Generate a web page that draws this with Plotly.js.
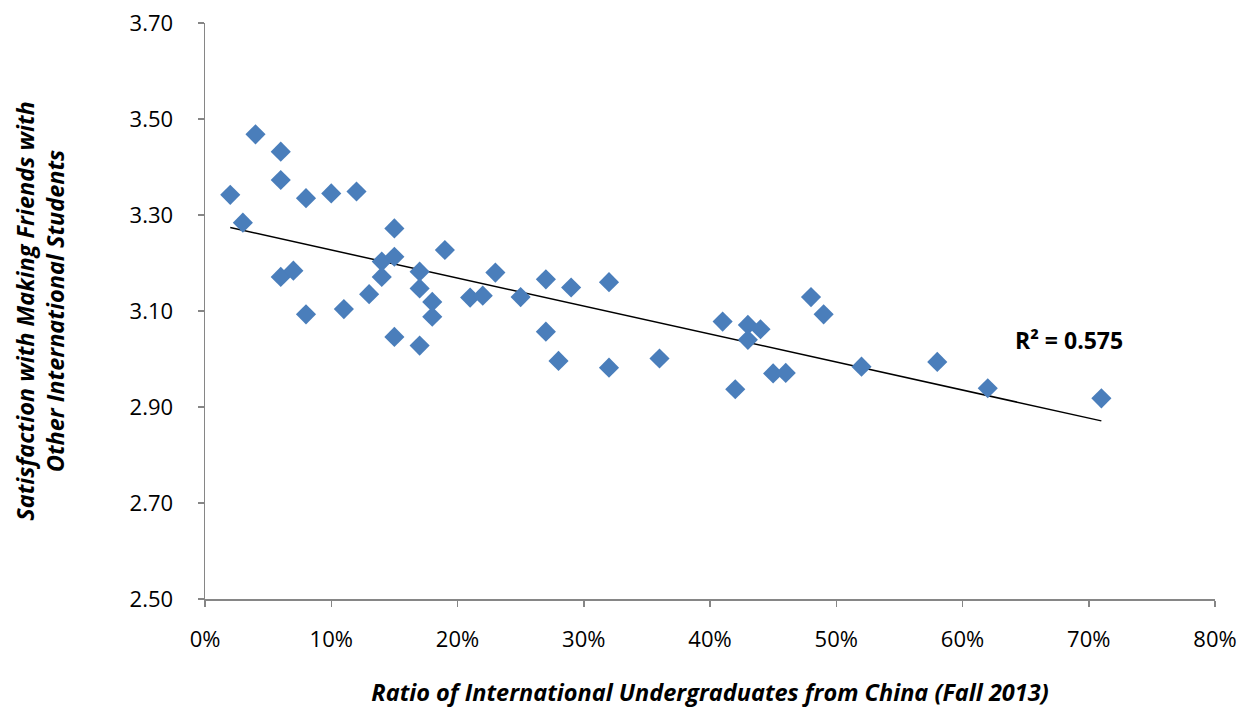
<!DOCTYPE html>
<html>
<head>
<meta charset="utf-8">
<script src="https://cdn.plot.ly/plotly-3.0.1.min.js"></script>
<style>html,body{margin:0;padding:0;background:#fff;}#chart{width:1240px;height:708px;}</style>
</head>
<body>
<div id="chart"></div>
<script>
// Ratio of international undergraduates from China (%), Fall 2013
const ratioChina = [2, 3, 4, 6, 6, 6, 7, 8, 8, 10, 11, 12, 13, 14, 14, 15, 15, 15, 17, 17, 17, 18, 18, 19, 21, 22, 23, 25, 27, 27, 28, 29, 32, 32, 36, 41, 42, 43, 43, 44, 45, 46, 48, 49, 52, 58, 62, 71];
// Satisfaction with making friends with other international students
const satisfaction = [3.342, 3.284, 3.468, 3.432, 3.373, 3.171, 3.184, 3.335, 3.093, 3.345, 3.104, 3.349, 3.135, 3.203, 3.171, 3.272, 3.213, 3.046, 3.182, 3.147, 3.028, 3.119, 3.088, 3.227, 3.128, 3.132, 3.180, 3.129, 3.166, 3.057, 2.996, 3.149, 3.160, 2.982, 3.001, 3.078, 2.937, 3.071, 3.040, 3.062, 2.970, 2.971, 3.129, 3.093, 2.984, 2.994, 2.939, 2.918];
const yTickVals = [2.5, 2.7, 2.9, 3.1, 3.3, 3.5, 3.7];
const xTickVals = [0, 10, 20, 30, 40, 50, 60, 70, 80];
const rSquaredLabel = 'R² = 0.575';

// least-squares linear trendline
const n = ratioChina.length;
const mx = ratioChina.reduce((a, b) => a + b, 0) / n;
const my = satisfaction.reduce((a, b) => a + b, 0) / n;
let sxy = 0, sxx = 0;
for (let i = 0; i < n; i++) { sxy += (ratioChina[i] - mx) * (satisfaction[i] - my); sxx += (ratioChina[i] - mx) ** 2; }
const slope = sxy / sxx, intercept = my - slope * mx;
const xMin = Math.min(...ratioChina), xMax = Math.max(...ratioChina);
const trendX = [xMin, xMax];
const trendY = trendX.map(x => intercept + slope * x);

const fontFam = '"Open Sans", Lato, sans-serif';
const axisColor = '#868686';

const data = [
  {
    x: trendX, y: trendY, type: 'scatter', mode: 'lines',
    line: {color: '#000000', width: 1.5}, hoverinfo: 'skip', showlegend: false
  },
  {
    x: ratioChina, y: satisfaction, type: 'scatter', mode: 'markers',
    marker: {symbol: 'diamond', size: 15.5, color: '#4A7EBB', line: {width: 0}},
    showlegend: false
  }
];

const layout = {
  width: 1240, height: 708,
  paper_bgcolor: '#ffffff', plot_bgcolor: '#ffffff',
  margin: {l: 205, r: 25, t: 23, b: 109},
  font: {family: fontFam, color: '#000000', size: 19},
  xaxis: {
    range: [0, 80], tickvals: xTickVals, ticktext: xTickVals.map(v => v + '%'),
    showgrid: false, zeroline: false, showline: true, linecolor: axisColor, linewidth: 1.5,
    ticks: 'outside', ticklen: 6, tickcolor: axisColor, tickwidth: 1.5,
    ticklabelstandoff: 14,
    tickfont: {family: fontFam, size: 22, color: '#000'},
    title: {text: 'Ratio of International Undergraduates from China (Fall 2013)', standoff: 35,
            font: {family: fontFam, size: 23.5, color: '#000', weight: 'bold', style: 'italic'}}
  },
  yaxis: {
    range: [2.5, 3.7], tickvals: yTickVals, ticktext: yTickVals.map(v => v.toFixed(2)),
    showgrid: false, zeroline: false, showline: true, linecolor: axisColor, linewidth: 1.5,
    ticks: 'outside', ticklen: 6, tickcolor: axisColor, tickwidth: 1.5,
    ticklabelstandoff: 20,
    tickfont: {family: fontFam, size: 22, color: '#000'},
    title: {text: 'Satisfaction with Making Friends with<br>Other International Students', standoff: 58,
            font: {family: fontFam, size: 23.5, color: '#000', weight: 'bold', style: 'italic'}}
  },
  annotations: [{
    x: 64, y: 3.04, xref: 'x', yref: 'y', xanchor: 'left', yanchor: 'middle',
    text: rSquaredLabel, showarrow: false,
    font: {family: fontFam, size: 23, color: '#000', weight: 'bold'}
  }]
};

Plotly.newPlot('chart', data, layout, {displayModeBar: false, staticPlot: true});
</script>
</body>
</html>
